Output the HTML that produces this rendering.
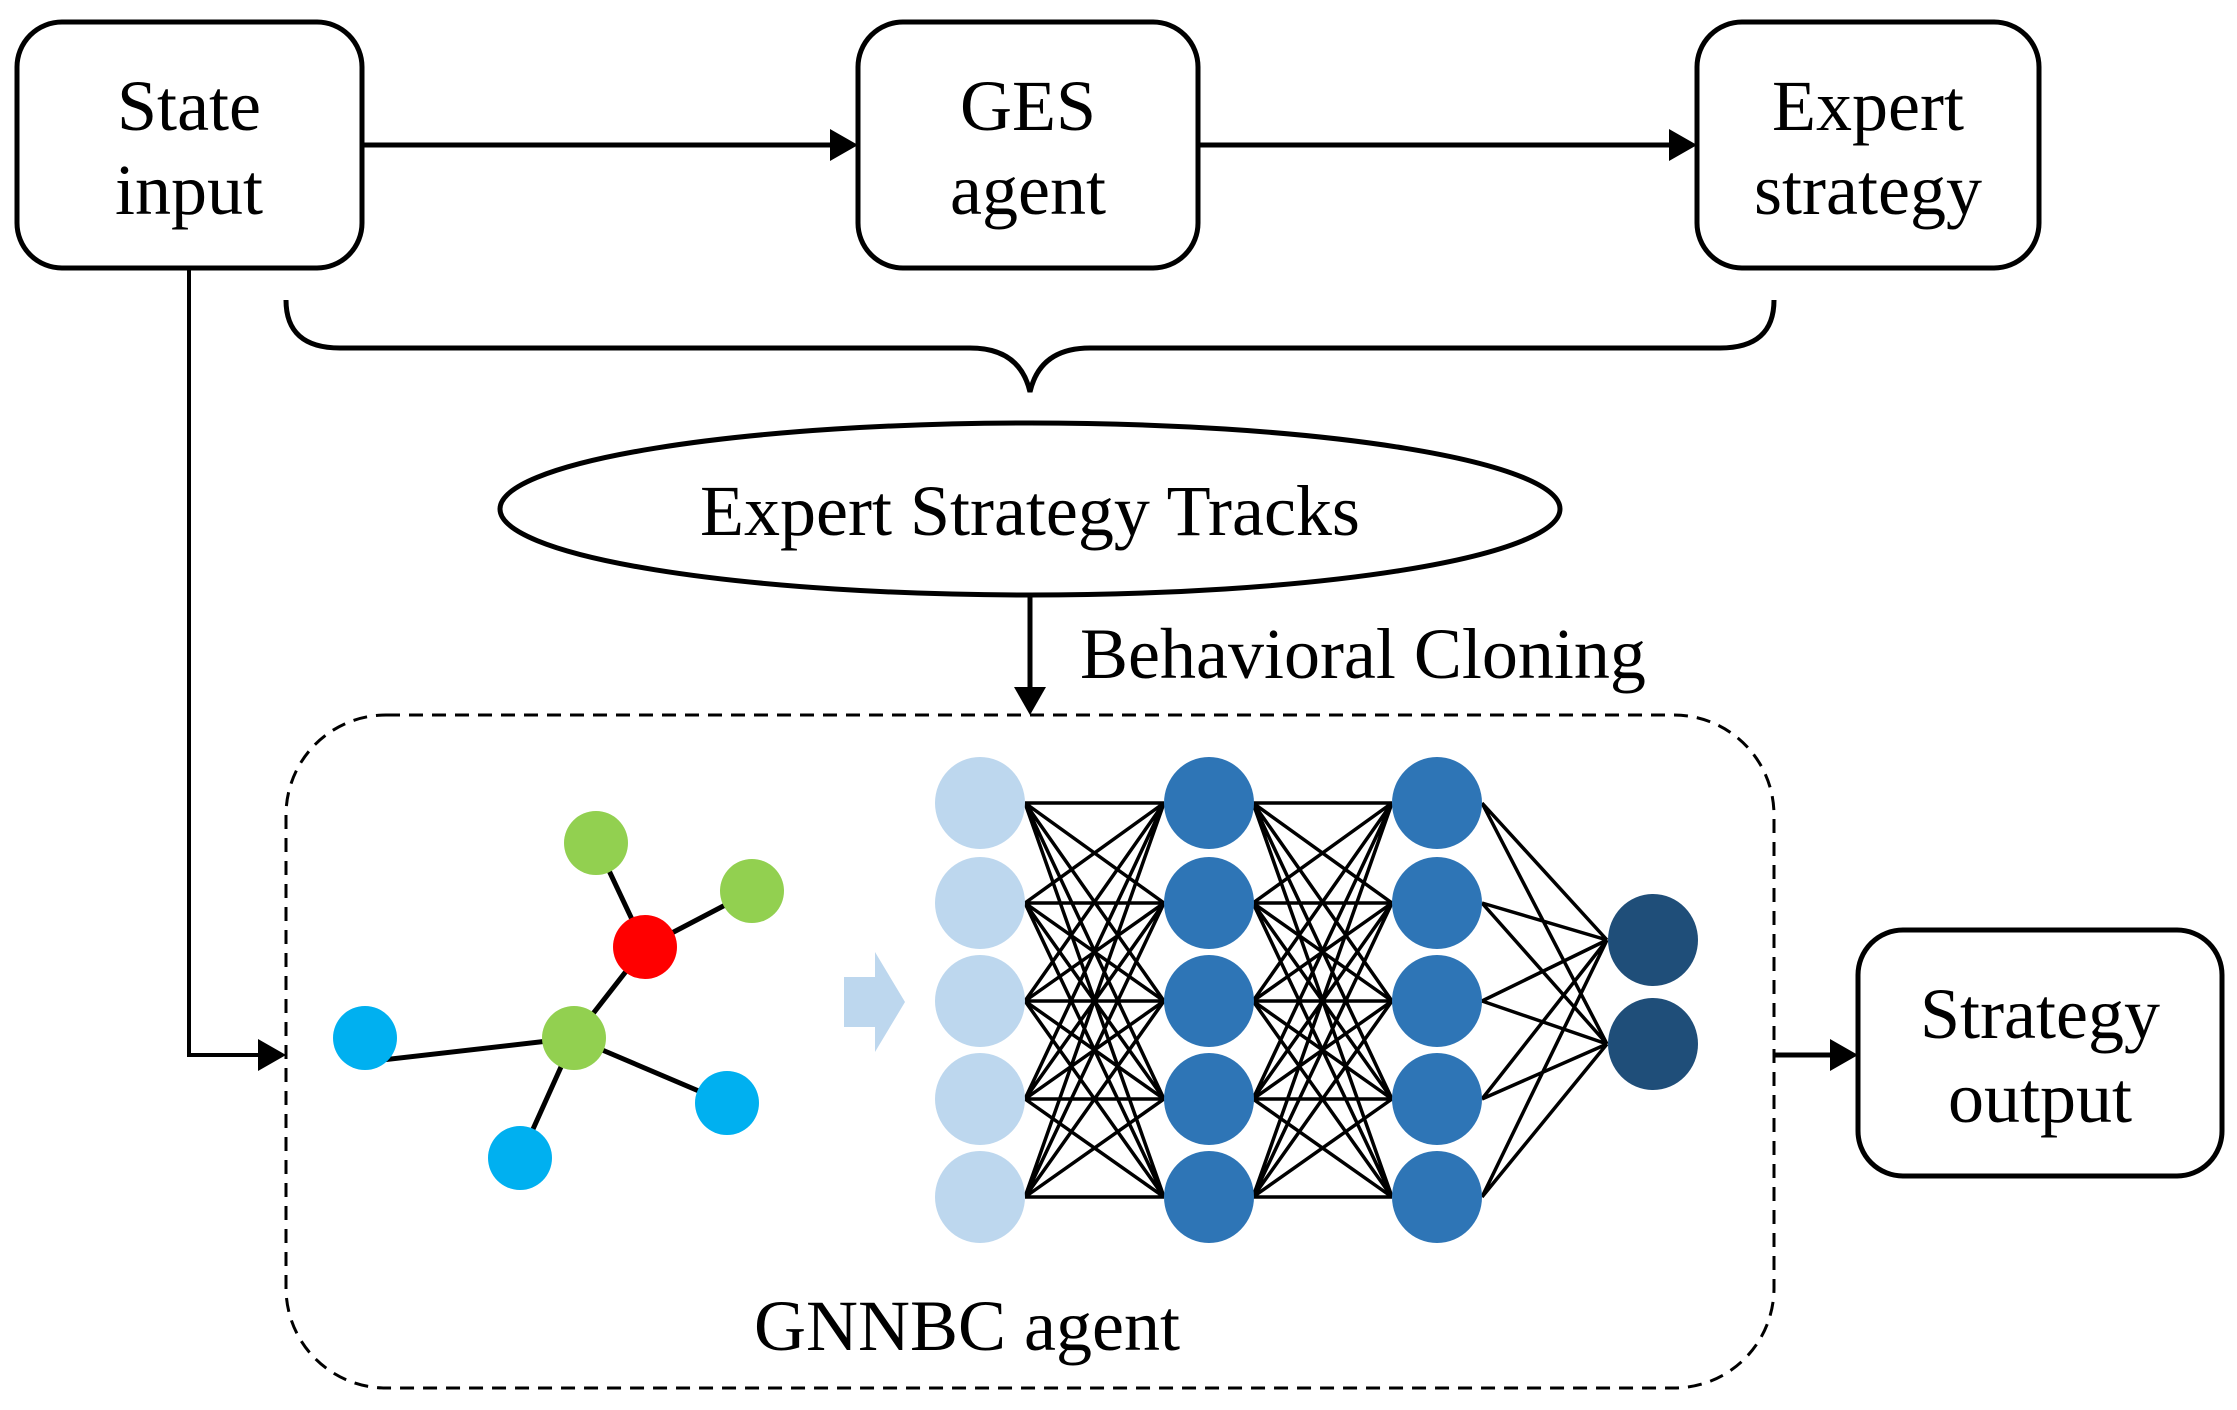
<!DOCTYPE html>
<html><head><meta charset="utf-8"><style>html,body{margin:0;padding:0;background:#fff}svg{display:block}</style></head>
<body>
<svg width="2237" height="1410" viewBox="0 0 2237 1410" xmlns="http://www.w3.org/2000/svg" font-family="Liberation Serif, serif">
<g fill="none" stroke="#000" stroke-width="5">
<rect x="17" y="22" width="345" height="246" rx="45"/>
<rect x="858" y="22" width="340" height="246" rx="45"/>
<rect x="1697" y="22" width="342" height="246" rx="45"/>
<rect x="1858" y="930" width="364" height="246" rx="45"/>
<ellipse cx="1030" cy="509" rx="530" ry="86"/>
<path d="M286 300 Q286 348 340 348 L970 348 Q1020 348 1030 392 Q1040 348 1090 348 L1720 348 Q1774 348 1774 300"/>
<rect x="286" y="715" width="1488" height="673" rx="100" stroke-width="3" stroke-dasharray="14 9"/>
</g>
<g stroke="#000" stroke-width="5" fill="none">
<line x1="362" y1="145" x2="834" y2="145"/>
<line x1="1198" y1="145" x2="1673" y2="145"/>
<line x1="1030" y1="595" x2="1030" y2="692"/>
<polyline points="189,268 189,1055 262,1055" stroke-width="4"/>
<line x1="1774" y1="1055" x2="1834" y2="1055"/>
</g>
<g fill="#000">
<polygon points="858,145 830,129 830,161"/>
<polygon points="1697,145 1669,129 1669,161"/>
<polygon points="1030,715 1014,687 1046,687"/>
<polygon points="286,1055 258,1039 258,1071"/>
<polygon points="1858,1055 1830,1039 1830,1071"/>
</g>
<g font-size="72" text-anchor="middle" fill="#000">
<text x="189" y="130">State</text><text x="189" y="214">input</text>
<text x="1028" y="130">GES</text><text x="1028" y="214">agent</text>
<text x="1868" y="130">Expert</text><text x="1868" y="214">strategy</text>
<text x="2040" y="1038">Strategy</text><text x="2040" y="1122">output</text>
<text x="1030" y="535">Expert Strategy Tracks</text>
<text x="967" y="1350">GNNBC agent</text>
</g>
<text x="1080" y="678" font-size="72" fill="#000">Behavioral Cloning</text>
<g stroke="#000" stroke-width="5">
<line x1="596" y1="843" x2="645" y2="947"/>
<line x1="752" y1="891" x2="645" y2="947"/>
<line x1="645" y1="947" x2="574" y2="1038"/>
<line x1="574" y1="1038" x2="365" y2="1062"/>
<line x1="574" y1="1038" x2="727" y2="1103"/>
<line x1="574" y1="1038" x2="520" y2="1158"/>
</g>
<g>
<ellipse cx="596" cy="843" rx="32" ry="32" fill="#92d050"/>
<ellipse cx="752" cy="891" rx="32" ry="32" fill="#92d050"/>
<ellipse cx="645" cy="947" rx="32" ry="32" fill="#ff0000"/>
<ellipse cx="574" cy="1038" rx="32" ry="32" fill="#92d050"/>
<ellipse cx="365" cy="1038" rx="32" ry="32" fill="#00b0f0"/>
<ellipse cx="727" cy="1103" rx="32" ry="32" fill="#00b0f0"/>
<ellipse cx="520" cy="1158" rx="32" ry="32" fill="#00b0f0"/>
</g>
<polygon points="844,977 875,977 875,952 905,1002 875,1052 875,1027 844,1027" fill="#bdd7ee"/>
<g stroke="#000" stroke-width="3.5">
<path d="M1025 803L1164 803M1025 803L1164 903M1025 803L1164 1001M1025 803L1164 1099M1025 803L1164 1197M1025 903L1164 803M1025 903L1164 903M1025 903L1164 1001M1025 903L1164 1099M1025 903L1164 1197M1025 1001L1164 803M1025 1001L1164 903M1025 1001L1164 1001M1025 1001L1164 1099M1025 1001L1164 1197M1025 1099L1164 803M1025 1099L1164 903M1025 1099L1164 1001M1025 1099L1164 1099M1025 1099L1164 1197M1025 1197L1164 803M1025 1197L1164 903M1025 1197L1164 1001M1025 1197L1164 1099M1025 1197L1164 1197"/>
<path d="M1253 803L1392 803M1253 803L1392 903M1253 803L1392 1001M1253 803L1392 1099M1253 803L1392 1197M1253 903L1392 803M1253 903L1392 903M1253 903L1392 1001M1253 903L1392 1099M1253 903L1392 1197M1253 1001L1392 803M1253 1001L1392 903M1253 1001L1392 1001M1253 1001L1392 1099M1253 1001L1392 1197M1253 1099L1392 803M1253 1099L1392 903M1253 1099L1392 1001M1253 1099L1392 1099M1253 1099L1392 1197M1253 1197L1392 803M1253 1197L1392 903M1253 1197L1392 1001M1253 1197L1392 1099M1253 1197L1392 1197"/>
<path d="M1482 803L1607 940M1482 803L1607 1044M1482 903L1607 940M1482 903L1607 1044M1482 1001L1607 940M1482 1001L1607 1044M1482 1099L1607 940M1482 1099L1607 1044M1482 1197L1607 940M1482 1197L1607 1044"/>
</g>
<g fill="#bdd7ee">
<ellipse cx="980" cy="803" rx="45" ry="46"/><ellipse cx="980" cy="903" rx="45" ry="46"/><ellipse cx="980" cy="1001" rx="45" ry="46"/><ellipse cx="980" cy="1099" rx="45" ry="46"/><ellipse cx="980" cy="1197" rx="45" ry="46"/>
</g>
<g fill="#2e75b6">
<ellipse cx="1209" cy="803" rx="45" ry="46"/><ellipse cx="1209" cy="903" rx="45" ry="46"/><ellipse cx="1209" cy="1001" rx="45" ry="46"/><ellipse cx="1209" cy="1099" rx="45" ry="46"/><ellipse cx="1209" cy="1197" rx="45" ry="46"/>
<ellipse cx="1437" cy="803" rx="45" ry="46"/><ellipse cx="1437" cy="903" rx="45" ry="46"/><ellipse cx="1437" cy="1001" rx="45" ry="46"/><ellipse cx="1437" cy="1099" rx="45" ry="46"/><ellipse cx="1437" cy="1197" rx="45" ry="46"/>
</g>
<g fill="#1f4e79">
<ellipse cx="1653" cy="940" rx="45" ry="46"/><ellipse cx="1653" cy="1044" rx="45" ry="46"/>
</g>
</svg>
</body></html>
